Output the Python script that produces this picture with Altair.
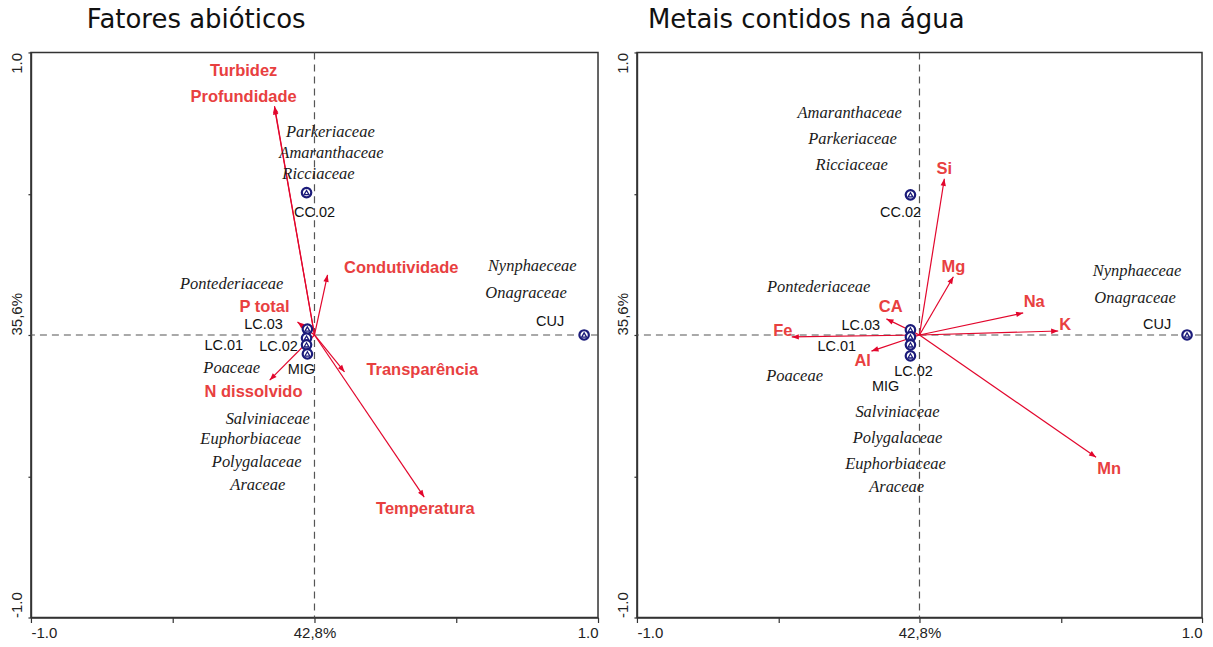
import altair as alt
import pandas as pd

# ---------------- data: panel 1 (Fatores abióticos) ----------------
site_names = ["CC.02", "CUJ", "LC.03", "LC.01", "LC.02", "MIG"]
a_site_x = [-0.028, 0.951, -0.025, -0.028, -0.028, -0.025]
a_site_y = [0.504, 0.0, 0.021, -0.011, -0.035, -0.067]
a_site_lx = [0.0, 0.831, -0.18, -0.32, -0.127, -0.046]
a_site_ly = [0.433, 0.046, 0.035, -0.039, -0.043, -0.124]

a_sp_names = ["Parkeriaceae", "Amaranthaceae", "Ricciaceae", "Pontederiaceae", "Poaceae",
              "Salviniaceae", "Euphorbiaceae", "Polygalaceae", "Araceae", "Nynphaeceae", "Onagraceae"]
a_sp_x = [0.056, 0.06, 0.014, -0.292, -0.292, -0.165, -0.225, -0.204, -0.2, 0.768, 0.746]
a_sp_y = [0.72, 0.645, 0.571, 0.181, -0.117, -0.298, -0.369, -0.45, -0.532, 0.245, 0.149]

a_env_names = ["Turbidez", "Profundidade", "Condutividade", "P total", "N dissolvido",
               "Transparência", "Temperatura"]
a_env_x = [-0.141, -0.141, 0.046, -0.06, -0.158, 0.106, 0.387]
a_env_y = [0.81, 0.805, 0.213, 0.046, -0.16, -0.131, -0.574]
a_env_lx = [-0.25, -0.25, 0.306, -0.176, -0.215, 0.38, 0.391]
a_env_ly = [0.936, 0.844, 0.238, 0.099, -0.202, -0.124, -0.617]

# ---------------- data: panel 2 (Metais contidos na água) ----------------
b_site_x = [-0.032, 0.947, -0.032, -0.032, -0.032, -0.032]
b_site_y = [0.496, 0.0, 0.018, -0.007, -0.035, -0.074]
b_site_lx = [-0.067, 0.841, -0.208, -0.293, -0.021, -0.12]
b_site_ly = [0.433, 0.035, 0.032, -0.043, -0.131, -0.184]

b_sp_names = ["Amaranthaceae", "Parkeriaceae", "Ricciaceae", "Pontederiaceae", "Poaceae",
              "Salviniaceae", "Polygalaceae", "Euphorbiaceae", "Araceae", "Nynphaeceae", "Onagraceae"]
b_sp_x = [-0.247, -0.237, -0.24, -0.357, -0.442, -0.078, -0.078, -0.085, -0.081, 0.77, 0.763]
b_sp_y = [0.787, 0.695, 0.603, 0.17, -0.145, -0.273, -0.365, -0.457, -0.539, 0.227, 0.131]

b_env_names = ["Si", "Mg", "Na", "K", "Mn", "CA", "Fe", "Al"]
b_env_x = [0.088, 0.12, 0.367, 0.491, 0.625, -0.117, -0.452, -0.17]
b_env_y = [0.553, 0.206, 0.078, 0.014, -0.433, 0.057, -0.007, -0.057]
b_env_lx = [0.088, 0.12, 0.406, 0.516, 0.671, -0.102, -0.484, -0.201]
b_env_ly = [0.589, 0.241, 0.117, 0.035, -0.475, 0.099, 0.014, -0.092]

tick_vals = [-1.0, -0.5, 0.0, 0.5, 1.0]
x_center_label = "42,8%"
y_center_label = "35,6%"

RED_LINE = "#E2062C"
RED_TEXT = "#E8403F"
NAVY = "#1B1B7A"
SANS = "Liberation Sans"
SERIF = "Liberation Serif"


def panel(title, title_dx, w, h, sx, sy, slx, sly, spn, spx, spy, en, ex, ey, elx, ely):
    xsc = alt.Scale(domain=[-1, 1], nice=False, zero=False)
    ysc = alt.Scale(domain=[-1, 1], nice=False, zero=False)
    common = dict(grid=False, title=None, labelFont=SANS, labelFontSize=15, labelColor="#222",
                  domainColor="#333", domainWidth=1.5, tickColor="#333", tickWidth=1.2,
                  labelOverlap=False, values=tick_vals)
    xax = alt.Axis(tickSize=5, labelPadding=3, labelFlush=True,
                   labelExpr=f"datum.value == 0 ? '{x_center_label}' : (datum.value == -1 ? '-1.0' : (datum.value == 1 ? '1.0' : ''))",
                   **common)
    yax = alt.Axis(tickSize=3, labelPadding=3, labelAngle=270, labelBaseline="bottom",
                   labelAlign={"condition": {"test": "datum.value == 1", "value": "right"}, "value": "left"},
                   labelExpr=f"datum.value == 0 ? '{y_center_label}' : (datum.value == -1 ? '-1.0' : (datum.value == 1 ? '1.0' : ''))",
                   **common)

    def X(f):
        return alt.X(f, type="quantitative", scale=xsc, axis=xax)

    def Y(f):
        return alt.Y(f, type="quantitative", scale=ysc, axis=yax)

    zero = pd.DataFrame({"v": [0.0]})
    vline = alt.Chart(zero).mark_rule(color="#555", strokeDash=[7, 5], strokeWidth=1.2).encode(x=X("v"))
    hline = alt.Chart(zero).mark_rule(color="#555", strokeDash=[7, 5], strokeWidth=1.2).encode(y=Y("v"))

    env = pd.DataFrame({"name": en, "x": ex, "y": ey, "lx": elx, "ly": ely, "x0": 0.0, "y0": 0.0})
    arrows = alt.Chart(env).mark_rule(color=RED_LINE, strokeWidth=1.2).encode(
        x=X("x0"), y=Y("y0"), x2="x", y2="y")
    heads = alt.Chart(env).transform_calculate(
        ang="(atan2(datum.x, datum.y) * 180 / PI + 360) % 360"
    ).mark_point(shape="M0,0L-0.38,1L0.38,1Z", filled=True, color=RED_LINE, opacity=1, size=200).encode(
        x=X("x"), y=Y("y"), angle=alt.Angle("ang:Q", scale=None))
    env_txt = alt.Chart(env).mark_text(font=SANS, fontWeight="bold", fontSize=16.5, color=RED_TEXT).encode(
        x=X("lx"), y=Y("ly"), text="name:N")

    sites = pd.DataFrame({"name": site_names, "x": sx, "y": sy, "lx": slx, "ly": sly})
    circ = alt.Chart(sites).mark_point(shape="circle", filled=False, fill="white", stroke=NAVY,
                                       strokeWidth=2.2, size=90, opacity=1).encode(x=X("x"), y=Y("y"))
    tri = alt.Chart(sites).mark_point(shape="triangle-up", filled=False, stroke=NAVY,
                                      strokeWidth=1.3, size=24, opacity=1).encode(x=X("x"), y=Y("y"))
    site_txt = alt.Chart(sites).mark_text(font=SANS, fontSize=14.5, color="#111").encode(
        x=X("lx"), y=Y("ly"), text="name:N")

    sp = pd.DataFrame({"name": spn, "x": spx, "y": spy})
    sp_txt = alt.Chart(sp).mark_text(font=SERIF, fontStyle="italic", fontSize=16.5, color="#1a1a1a").encode(
        x=X("x"), y=Y("y"), text="name:N")

    return alt.layer(vline, hline, arrows, heads, circ, tri, site_txt, sp_txt, env_txt).properties(
        width=w, height=h,
        title=alt.TitleParams(title, anchor="start", dx=title_dx, dy=3, fontSize=26, font="DejaVu Sans",
                              fontWeight="normal", color="#111", offset=22))


left = panel("Fatores abióticos", 77, 568, 566, a_site_x, a_site_y, a_site_lx, a_site_ly,
             a_sp_names, a_sp_x, a_sp_y, a_env_names, a_env_x, a_env_y, a_env_lx, a_env_ly)
right = panel("Metais contidos na água", 32, 566, 566, b_site_x, b_site_y, b_site_lx, b_site_ly,
              b_sp_names, b_sp_x, b_sp_y, b_env_names, b_env_x, b_env_y, b_env_lx, b_env_ly)

chart = alt.hconcat(left, right, spacing=15).properties(
    padding={"left": 9, "top": 5, "right": 9, "bottom": 5}, background="white"
).configure_view(stroke="#333", strokeWidth=1.5)

chart.save("out.html", embed_options={"renderer": "svg", "actions": False})
